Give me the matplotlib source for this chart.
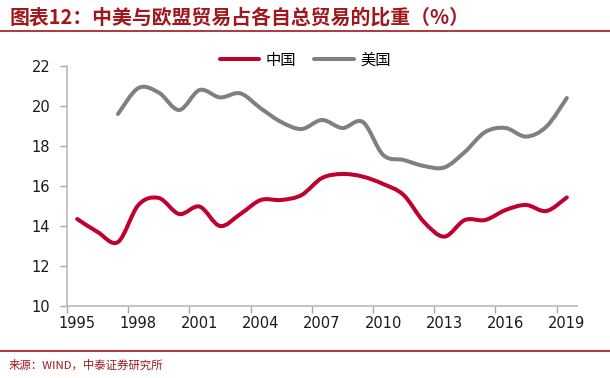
import matplotlib
matplotlib.use("Agg")
import matplotlib.pyplot as plt
from matplotlib.path import Path
from matplotlib.patches import PathPatch
from matplotlib.lines import Line2D
import numpy as np

plt.rcParams['font.family'] = ['Noto Sans CJK SC', 'DejaVu Sans']

years = list(range(1995, 2020))
china = [14.35, 13.7, 13.2, 15.05, 15.4, 14.6, 14.97, 14.0, 14.6, 15.3,
         15.3, 15.55, 16.4, 16.6, 16.47, 16.1, 15.55, 14.2, 13.47, 14.3,
         14.3, 14.8, 15.05, 14.75, 15.43]
usa_years = list(range(1997, 2020))
usa = [19.6, 20.9, 20.67, 19.8, 20.8, 20.43, 20.63, 19.88, 19.2, 18.85,
       19.3, 18.9, 19.2, 17.55, 17.3, 17.0, 16.93, 17.7, 18.7, 18.9,
       18.47, 18.97, 20.4]
yticks = [10, 12, 14, 16, 18, 20, 22]
xlabels = [str(y) for y in range(1995, 2020, 3)]

RED = '#C0002F'
GRAY = '#808080'
DARKRED = '#A0171C'


def smooth_path(xs, ys):
    pts = np.column_stack([xs, ys]).astype(float)
    n = len(pts)
    verts = [pts[0]]
    codes = [Path.MOVETO]
    for i in range(n - 1):
        p0 = pts[i - 1] if i > 0 else pts[i]
        p1 = pts[i]
        p2 = pts[i + 1]
        p3 = pts[i + 2] if i + 2 < n else pts[i + 1]
        c1 = p1 + (p2 - p0) / 6.0
        c2 = p2 - (p3 - p1) / 6.0
        verts += [c1, c2, p2]
        codes += [Path.CURVE4] * 3
    return Path(verts, codes)


fig = plt.figure(figsize=(6.1, 3.78), dpi=100)
ax = fig.add_axes([67 / 610, 1 - 306 / 378, 510 / 610, 240 / 378])

cx = [years.index(y) for y in years]
ux = [years.index(y) for y in usa_years]
lw = 2.9
ax.add_patch(PathPatch(smooth_path(cx, china), facecolor='none', edgecolor=RED,
                       lw=lw, capstyle='round', joinstyle='round'))
ax.add_patch(PathPatch(smooth_path(ux, usa), facecolor='none', edgecolor=GRAY,
                       lw=lw, capstyle='round', joinstyle='round'))

ax.set_xlim(-0.5, len(years) - 0.5)
ax.set_ylim(10, 22)
ax.set_yticks(yticks)
ax.set_yticklabels([str(v) for v in yticks])
ax.set_xticks(np.arange(-0.5, len(years) - 1, 3))
ax.set_xticklabels([])
ax.set_xticks(np.arange(0, len(years), 3), minor=True)
ax.set_xticklabels(xlabels, minor=True)

for s in ['top', 'right']:
    ax.spines[s].set_visible(False)
for s in ['left', 'bottom']:
    ax.spines[s].set_color('#BFBFBF')
    ax.spines[s].set_linewidth(1.3)
ax.tick_params(axis='both', which='major', color='#A6A6A6', length=5, width=1,
               labelsize=10.5, labelcolor='#1a1a1a', direction='out')
ax.tick_params(axis='x', which='minor', length=0, labelsize=10.5,
               labelcolor='#1a1a1a', pad=7)
ax.tick_params(axis='y', pad=7)
for t in ax.get_yticklabels() + ax.get_xticklabels(minor=True):
    t.set_family('DejaVu Sans')

handles = [Line2D([], [], color=RED, lw=lw, solid_capstyle='round'),
           Line2D([], [], color=GRAY, lw=lw, solid_capstyle='round')]
fig.legend(handles, ['中国', '美国'], loc='center', bbox_to_anchor=(305 / 610, 1 - 60 / 378),
           ncol=2, frameon=False, fontsize=11, handlelength=2.6, handletextpad=0.4,
           columnspacing=1.2)

fig.text(10 / 610, 1 - 17 / 378, '图表12：中美与欧盟贸易占各自总贸易的比重（%）',
         fontsize=14.3, fontweight='bold', color=DARKRED, va='center', ha='left')
fig.add_artist(Line2D([0, 1], [1 - 31 / 378, 1 - 31 / 378], color=DARKRED, lw=1.2))
fig.add_artist(Line2D([0, 1], [1 - 351 / 378, 1 - 351 / 378], color=DARKRED, lw=1.2))
fig.text(9 / 610, 1 - 365 / 378, '来源：WIND，中泰证券研究所', fontsize=8.2,
         color=DARKRED, va='center', ha='left')

fig.savefig('out.png', dpi=100)
